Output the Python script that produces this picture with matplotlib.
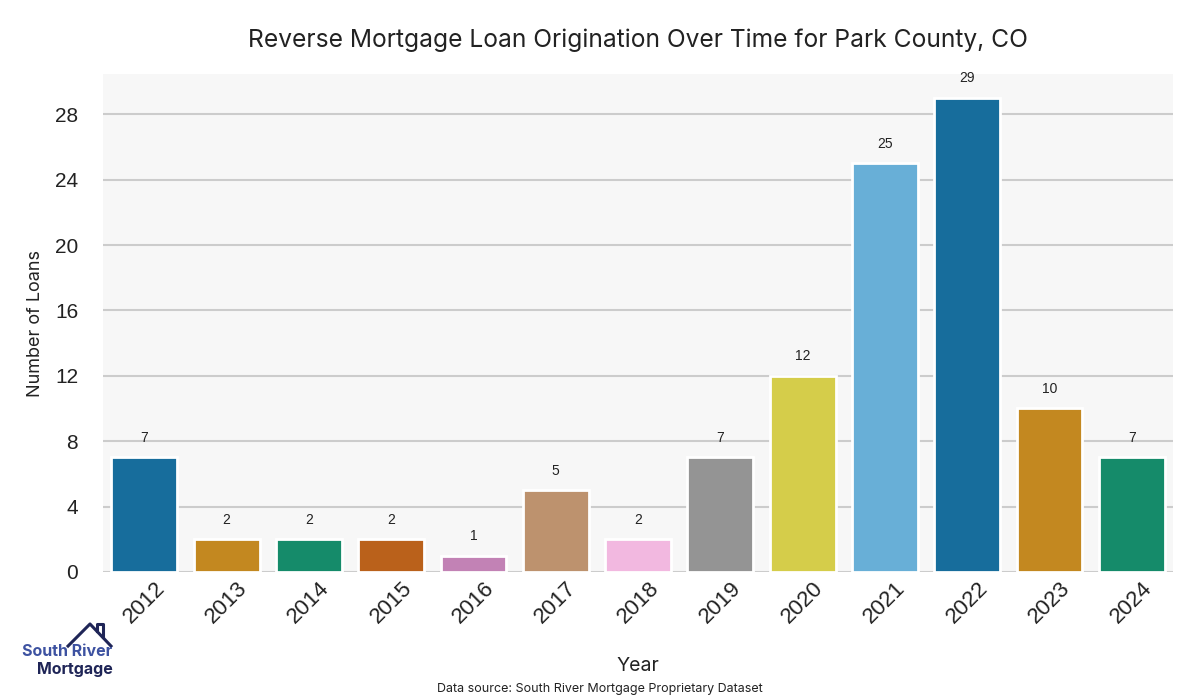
import numpy as np
import matplotlib.pyplot as plt
import seaborn as sns
from matplotlib.colors import to_rgb
import colorsys

years = ["2012", "2013", "2014", "2015", "2016", "2017", "2018",
         "2019", "2020", "2021", "2022", "2023", "2024"]
loans = [7, 2, 2, 2, 1, 5, 2, 7, 12, 25, 29, 10, 7]
yticks = [0, 4, 8, 12, 16, 20, 24, 28]


def desat(c, s=0.75):
    h, l, sat = colorsys.rgb_to_hls(*to_rgb(c))
    return colorsys.hls_to_rgb(h, l, sat * s)


pal = sns.color_palette("colorblind", 10)
colors = [desat(pal[i % 10]) for i in range(len(years))]

fig = plt.figure(figsize=(12, 7), dpi=100)
ax = fig.add_axes([0.086, 0.183, 0.8915, 0.711])
ax.set_facecolor("#f7f7f7")

x = np.arange(len(years))
bars = ax.bar(x, loans, width=0.8, color=colors, edgecolor="white", linewidth=2, zorder=3)
for xi, v in zip(x, loans):
    ax.annotate(str(v), (xi, v), xytext=(0, 9), textcoords="offset points",
                ha="center", va="bottom", fontsize=10, color="#222222",
                family="Liberation Sans")

ax.set_xlim(-0.5, len(years) - 0.5)
ax.set_ylim(0, max(loans) * 1.05)
ax.set_yticks(yticks)
ax.set_xticks(x)
ax.set_xticklabels(years, rotation=45, family="Liberation Sans", fontsize=16, color="#222222")
ax.tick_params(axis="y", labelsize=15, labelcolor="#222222", length=0, pad=18)
ax.tick_params(axis="x", length=0, pad=4)
for lab in ax.get_yticklabels():
    lab.set_family("Liberation Sans")
ax.grid(axis="y", color="#cccccc", linewidth=1.5, zorder=0)
for s in ax.spines.values():
    s.set_visible(False)

ax.set_ylabel("Number of Loans", fontsize=13, family="Inter", color="#222222", labelpad=8)
ax.set_xlabel("Year", fontsize=14, family="Inter", color="#222222", labelpad=21)
fig.text(0.532, 0.942, "Reverse Mortgage Loan Origination Over Time for Park County, CO",
         ha="center", va="center", fontsize=17.7, family="Inter", color="#222222")
fig.text(0.5, 0.016, "Data source: South River Mortgage Proprietary Dataset",
         ha="center", va="center", fontsize=9, family="Inter", color="#222222")

# logo
fig.text(0.056, 0.069, "South River", ha="center", va="center", fontsize=11.5,
         family="Inter", fontweight="bold", color="#3d52a1")
fig.text(0.062, 0.043, "Mortgage", ha="center", va="center", fontsize=11.5,
         family="Inter", fontweight="bold", color="#1f2557")
fig.lines.append(plt.Line2D([0.0567, 0.075, 0.0925], [0.0771, 0.1086, 0.0771],
                            transform=fig.transFigure, color="#1f2557", lw=2.2))
fig.lines.append(plt.Line2D([0.0808, 0.0808, 0.0858, 0.0858], [0.0986, 0.1086, 0.1086, 0.09],
                            transform=fig.transFigure, color="#1f2557", lw=2.2))

fig.savefig("out.png", dpi=100)
